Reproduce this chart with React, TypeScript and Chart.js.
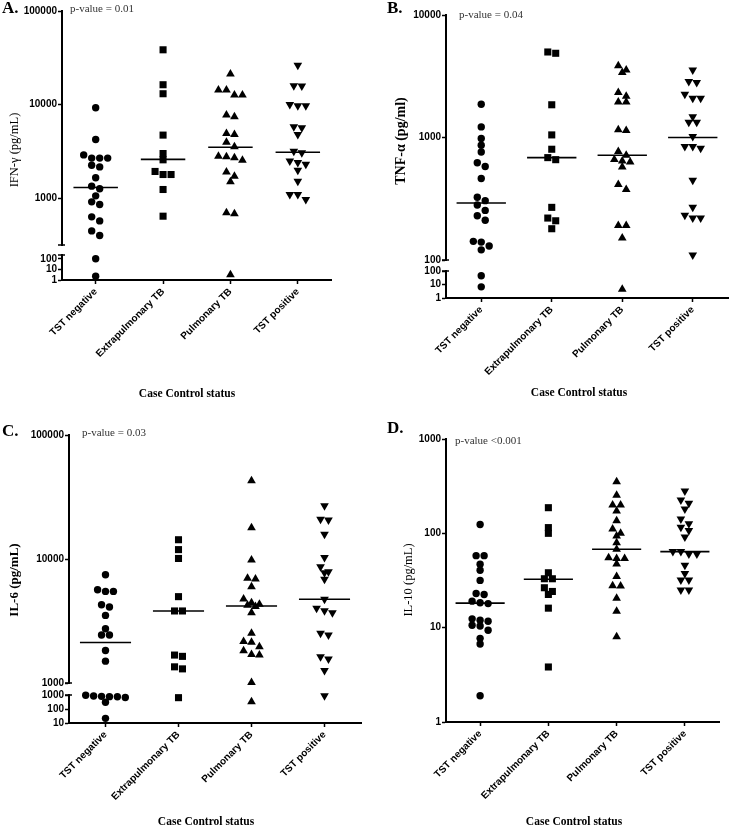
import React, { useEffect, useRef } from 'react';
import { Chart, registerables } from 'chart.js';

Chart.register(...registerables);

const categories = ['TST negative', 'Extrapulmonary TB', 'Pulmonary TB', 'TST positive'];

// A. IFN-γ (pg/mL)
const ifnTstNegative = [9250, 4240, 2900, 2680, 2680, 2680, 2250, 2160, 1650, 1345, 1260, 1059, 914, 856, 632, 572, 447, 399, 105, 2.3];
const ifnExtrapulmonary = [38500, 16300, 13060, 4720, 3000, 2570, 1930, 1790, 1790, 1238, 642];
const ifnPulmonary = [21200, 14300, 14300, 12650, 12650, 7730, 7420, 4920, 4800, 3970, 3540, 2810, 2770, 2700, 2550, 1910, 1720, 1495, 697, 680, 3.2];
const ifnTstPositive = [26400, 15900, 15800, 10000, 9720, 9720, 5800, 5650, 4800, 3180, 3050, 2490, 2410, 2310, 1990, 1520, 1094, 1094, 968];
const ifnMedians = [1300, 2600, 3500, 3100];
const ifnUpperTicks = [1000, 10000, 100000];
const ifnLowerTicks = [1, 10, 100];

// B. TNF-α (pg/ml)
const tnfTstNegative = [1870, 1220, 981, 865, 762, 623, 579, 463, 325, 305, 281, 254, 230, 211, 142, 140, 130, 121, 45, 6.7];
const tnfExtrapulmonary = [4990, 4870, 1850, 1050, 802, 685, 659, 269, 220, 209, 180];
const tnfPulmonary = [3860, 3560, 3390, 2330, 2170, 1950, 1950, 1155, 1140, 767, 716, 662, 643, 632, 574, 414, 376, 191, 191, 151, 4.5];
const tnfTstPositive = [3560, 2860, 2810, 2250, 2090, 2090, 1480, 1330, 1330, 1019, 843, 843, 817, 447, 269, 232, 220, 220, 110];
const tnfMedians = [292, 685, 716, 1000];
const tnfUpperTicks = [100, 1000, 10000];
const tnfLowerTicks = [1, 10, 100];

// C. IL-6 (pg/mL)
const il6TstNegative = [7470, 5650, 5480, 5480, 4280, 4100, 3510, 2740, 2440, 2440, 1830, 1500, 950, 843, 800, 760, 750, 670, 302, 21.5];
const il6Extrapulmonary = [14300, 11900, 10100, 4970, 3810, 3810, 1680, 1640, 1350, 1300, 645];
const il6Pulmonary = [42800, 17900, 9820, 6990, 6900, 5980, 4750, 4440, 4310, 4230, 4130, 3690, 2520, 2160, 2130, 1960, 1820, 1700, 1680, 1010, 334];
const il6TstPositive = [26900, 20900, 20600, 15800, 10300, 8670, 7900, 7750, 6850, 4730, 4000, 3830, 3690, 2520, 2440, 1630, 1560, 1260, 896];
const il6Medians = [2120, 3810, 4180, 4730];
const il6UpperTicks = [1000, 10000, 100000];
const il6LowerTicks = [10, 100, 1000];

// D. IL-10 (pg/mL)
const il10TstNegative = [124, 58, 58, 47, 40.6, 31.7, 23, 22.5, 19.1, 18.4, 18, 12.4, 12.0, 11.7, 10.6, 10.4, 9.4, 7.7, 6.7, 1.9];
const il10Extrapulmonary = [187, 115, 100, 38.2, 33, 33, 26.5, 24.2, 22.5, 16.1, 3.83];
const il10Pulmonary = [353, 253, 200, 200, 172, 136, 111, 100, 93.7, 79.6, 67.7, 55.2, 54, 54, 47.3, 34.8, 27.9, 27.7, 20.5, 14.9, 8.0];
const il10TstPositive = [281, 225, 208, 181, 142, 126, 116, 107, 91.4, 64, 64, 60.4, 60.4, 45.8, 37.6, 32, 32, 25.1, 25.1];
const il10Medians = [18.2, 32.6, 67.7, 64];
const il10Ticks = [1, 10, 100, 1000];

const SERIF = '"Liberation Serif", "Times New Roman", serif';
const SANS = '"Liberation Sans", Arial, sans-serif';

const MARKERS = [
  { style: 'circle', radius: 3.7, rotation: 0 },
  { style: 'rect', radius: 5, rotation: 0 },
  { style: 'triangle', radius: 5, rotation: 0 },
  { style: 'triangle', radius: 5, rotation: 180 },
];

const STEP_PX = 8;
const BIN_PX = 5.5;

type Seg = { min: number; max: number; ticks: number[]; px: number };
type TextItem = { text: string; x: number; y: number; font: string; align?: CanvasTextAlign; rotate?: boolean; color?: string };
type PanelCfg = {
  id: string;
  left: number; top: number; width: number; height: number;
  area: { left: number; top: number; right: number; bottom: number };
  upper: Seg; gapPx?: number; lower?: Seg;
  groups: number[][]; medians: number[]; medianHalf: number;
  texts: TextItem[];
};

function swarmOffsets(values: number[], pxPerDecade: number, bandPx: number): number[] {
  const order = values.map((_, i) => i).sort((a, b) => values[b] - values[a]);
  const offsets = new Array(values.length).fill(0);
  let row: number[] = [];
  let rowTop = 0;
  const flush = () => {
    const n = row.length;
    row.forEach((k, j) => { offsets[k] = ((j - (n - 1) / 2) * STEP_PX) / bandPx; });
    row = [];
  };
  for (const k of order) {
    const y = Math.log10(values[k]) * pxPerDecade;
    if (row.length && rowTop - y > BIN_PX) flush();
    if (!row.length) rowTop = y;
    row.push(k);
  }
  flush();
  return offsets;
}

const xTitle = 'Case Control status';

const panels: PanelCfg[] = [
  {
    id: 'A', left: 0, top: 0, width: 366, height: 410,
    area: { left: 62, top: 11, right: 331.5, bottom: 280 },
    upper: { min: 316, max: 100000, ticks: ifnUpperTicks, px: 234 },
    gapPx: 10,
    lower: { min: 1, max: 240, ticks: ifnLowerTicks, px: 25 },
    groups: [ifnTstNegative, ifnExtrapulmonary, ifnPulmonary, ifnTstPositive],
    medians: ifnMedians, medianHalf: 0.33,
    texts: [
      { text: 'A.', x: 2, y: 9, font: `bold 17px ${SERIF}` },
      { text: 'p-value = 0.01', x: 70, y: 9, font: `11px ${SERIF}`, color: '#333' },
      { text: 'IFN-γ (pg/mL)', x: 15, y: 150, font: `12.5px ${SERIF}`, align: 'center', rotate: true },
      { text: xTitle, x: 187, y: 394, font: `bold 11.5px ${SERIF}`, align: 'center' },
    ],
  },
  {
    id: 'B', left: 366, top: 0, width: 367, height: 410,
    area: { left: 80, top: 15, right: 365, bottom: 298 },
    upper: { min: 100, max: 10000, ticks: tnfUpperTicks, px: 245 },
    gapPx: 11,
    lower: { min: 1, max: 100, ticks: tnfLowerTicks, px: 27 },
    groups: [tnfTstNegative, tnfExtrapulmonary, tnfPulmonary, tnfTstPositive],
    medians: tnfMedians, medianHalf: 0.35,
    texts: [
      { text: 'B.', x: 21, y: 9, font: `bold 17px ${SERIF}` },
      { text: 'p-value = 0.04', x: 93, y: 15, font: `11px ${SERIF}`, color: '#333' },
      { text: 'TNF-α (pg/ml)', x: 35, y: 141, font: `bold 14px ${SERIF}`, align: 'center', rotate: true },
      { text: xTitle, x: 213, y: 393, font: `bold 11.5px ${SERIF}`, align: 'center' },
    ],
  },
  {
    id: 'C', left: 0, top: 410, width: 366, height: 416,
    area: { left: 69, top: 25, right: 364, bottom: 313 },
    upper: { min: 1000, max: 100000, ticks: il6UpperTicks, px: 248 },
    gapPx: 12,
    lower: { min: 10, max: 1000, ticks: il6LowerTicks, px: 28 },
    groups: [il6TstNegative, il6Extrapulmonary, il6Pulmonary, il6TstPositive],
    medians: il6Medians, medianHalf: 0.35,
    texts: [
      { text: 'C.', x: 2, y: 22, font: `bold 17px ${SERIF}` },
      { text: 'p-value = 0.03', x: 82, y: 23, font: `11px ${SERIF}`, color: '#333' },
      { text: 'IL-6 (pg/mL)', x: 15, y: 170, font: `bold 13px ${SERIF}`, align: 'center', rotate: true },
      { text: xTitle, x: 206, y: 412, font: `bold 11.5px ${SERIF}`, align: 'center' },
    ],
  },
  {
    id: 'D', left: 366, top: 410, width: 367, height: 416,
    area: { left: 80, top: 29, right: 353, bottom: 312 },
    upper: { min: 1, max: 1000, ticks: il10Ticks, px: 283 },
    groups: [il10TstNegative, il10Extrapulmonary, il10Pulmonary, il10TstPositive],
    medians: il10Medians, medianHalf: 0.36,
    texts: [
      { text: 'D.', x: 21, y: 19, font: `bold 17px ${SERIF}` },
      { text: 'p-value <0.001', x: 89, y: 31, font: `11px ${SERIF}`, color: '#333' },
      { text: 'IL-10 (pg/mL)', x: 43, y: 170, font: `12.5px ${SERIF}`, align: 'center', rotate: true },
      { text: xTitle, x: 208, y: 412, font: `bold 11.5px ${SERIF}`, align: 'center' },
    ],
  },
];

function buildDatasets(cfg: PanelCfg) {
  const ds: any[] = [];
  const bandPx = (cfg.area.right - cfg.area.left) / 4;
  cfg.groups.forEach((vals, gi) => {
    const m = MARKERS[gi];
    const segs: [string, Seg, number[]][] = cfg.lower
      ? [['y', cfg.upper, vals.filter((v) => v >= cfg.upper.min)], ['yLow', cfg.lower, vals.filter((v) => v < cfg.upper.min)]]
      : [['y', cfg.upper, vals]];
    for (const [axis, seg, sv] of segs) {
      if (!sv.length) continue;
      const ppd = seg.px / (Math.log10(seg.max) - Math.log10(seg.min));
      const off = swarmOffsets(sv, ppd, bandPx);
      ds.push({
        label: categories[gi],
        xAxisID: 'x',
        yAxisID: axis,
        data: sv.map((v, i) => ({ x: gi + off[i], y: v })),
        pointStyle: m.style,
        pointRadius: m.radius,
        pointRotation: m.rotation,
        pointBackgroundColor: '#000',
        pointBorderColor: '#000',
        pointBorderWidth: 0,
        showLine: false,
        clip: false,
      });
    }
  });
  cfg.medians.forEach((med, gi) => {
    ds.push({
      label: 'median',
      xAxisID: 'x',
      yAxisID: 'y',
      data: [{ x: gi - cfg.medianHalf, y: med }, { x: gi + cfg.medianHalf, y: med }],
      showLine: true,
      borderColor: '#000',
      borderWidth: 1.6,
      pointRadius: 0,
      clip: false,
    });
  });
  return ds;
}

const tickFont = { family: SANS, size: 10, weight: 'bold' as const };
const gridOpts = { display: true, drawOnChartArea: false, drawTicks: true, tickLength: 4, tickWidth: 1.5, tickColor: '#000' };
const borderOpts = { display: true, color: '#000', width: 2 };

function yScale(cfg: PanelCfg, seg: Seg, weight: number) {
  return {
    type: 'logarithmic',
    position: 'left',
    min: seg.min,
    max: seg.max,
    bounds: 'data',
    weight,
    ...(cfg.lower ? { stack: 'ystack', stackWeight: seg.px } : {}),
    afterBuildTicks: (s: any) => { s.ticks = seg.ticks.map((v) => ({ value: v })); },
    afterFit: (s: any) => { s.width = cfg.area.left; },
    ticks: { autoSkip: false, padding: 1, color: '#000', font: tickFont, callback: (v: any) => String(v) },
    grid: gridOpts,
    border: borderOpts,
  };
}

function buildScales(cfg: PanelCfg) {
  const scales: any = {
    x: {
      type: 'linear',
      position: 'bottom',
      min: -0.5,
      max: 3.5,
      bounds: 'data',
      afterBuildTicks: (s: any) => { s.ticks = categories.map((_, i) => ({ value: i })); },
      afterFit: (s: any) => { s.height = cfg.height - cfg.area.bottom; },
      ticks: {
        autoSkip: false, minRotation: 45, maxRotation: 45, padding: 2, color: '#000', font: tickFont,
        callback: (_v: any, i: number) => categories[i],
      },
      grid: gridOpts,
      border: borderOpts,
    },
    y: yScale(cfg, cfg.upper, 3),
  };
  if (cfg.lower) {
    scales.yGap = {
      type: 'linear', position: 'left', min: 0, max: 1, weight: 2,
      stack: 'ystack', stackWeight: cfg.gapPx,
      afterFit: (s: any) => { s.width = cfg.area.left; },
      ticks: { display: false },
      grid: { display: false },
      border: { display: false },
    };
    scales.yLow = yScale(cfg, cfg.lower, 1);
  }
  return scales;
}

function makeAnnotate(cfg: PanelCfg) {
  return {
    id: 'annotate' + cfg.id,
    afterDraw(chart: any) {
      const ctx = chart.ctx as CanvasRenderingContext2D;
      ctx.save();
      for (const t of cfg.texts) {
        ctx.save();
        ctx.font = t.font;
        ctx.fillStyle = t.color || '#000';
        ctx.textAlign = t.align || 'left';
        ctx.textBaseline = 'middle';
        ctx.translate(t.x, t.y);
        if (t.rotate) ctx.rotate(-Math.PI / 2);
        ctx.fillText(t.text, 0, 0);
        ctx.restore();
      }
      const up = chart.scales.y;
      const lo = chart.scales.yLow;
      if (lo) {
        const x = chart.chartArea.left;
        ctx.strokeStyle = '#000';
        ctx.lineWidth = 1.5;
        ctx.beginPath();
        ctx.moveTo(x - 4, up.bottom);
        ctx.lineTo(x + 3, up.bottom);
        ctx.moveTo(x - 4, lo.top);
        ctx.lineTo(x + 3, lo.top);
        ctx.stroke();
      }
      ctx.restore();
    },
  };
}

function Panel({ cfg }: { cfg: PanelCfg }) {
  const ref = useRef<HTMLCanvasElement>(null);
  useEffect(() => {
    const chart = new Chart(ref.current as HTMLCanvasElement, {
      type: 'scatter',
      data: { datasets: buildDatasets(cfg) },
      options: {
        responsive: false,
        maintainAspectRatio: false,
        animation: false,
        devicePixelRatio: 1,
        events: [],
        layout: { padding: { left: 0, top: cfg.area.top, right: cfg.width - cfg.area.right, bottom: 0 } },
        plugins: { legend: { display: false }, tooltip: { enabled: false } },
        scales: buildScales(cfg),
      } as any,
      plugins: [makeAnnotate(cfg)],
    });
    return () => chart.destroy();
  }, [cfg]);
  return (
    <canvas
      ref={ref}
      width={cfg.width}
      height={cfg.height}
      style={{ position: 'absolute', left: cfg.left, top: cfg.top, width: cfg.width, height: cfg.height }}
    />
  );
}

export default function App() {
  return (
    <div style={{ position: 'absolute', left: 0, top: 0, width: 733, height: 826, background: '#fff', overflow: 'hidden' }}>
      {panels.map((p) => (
        <Panel key={p.id} cfg={p} />
      ))}
    </div>
  );
}
